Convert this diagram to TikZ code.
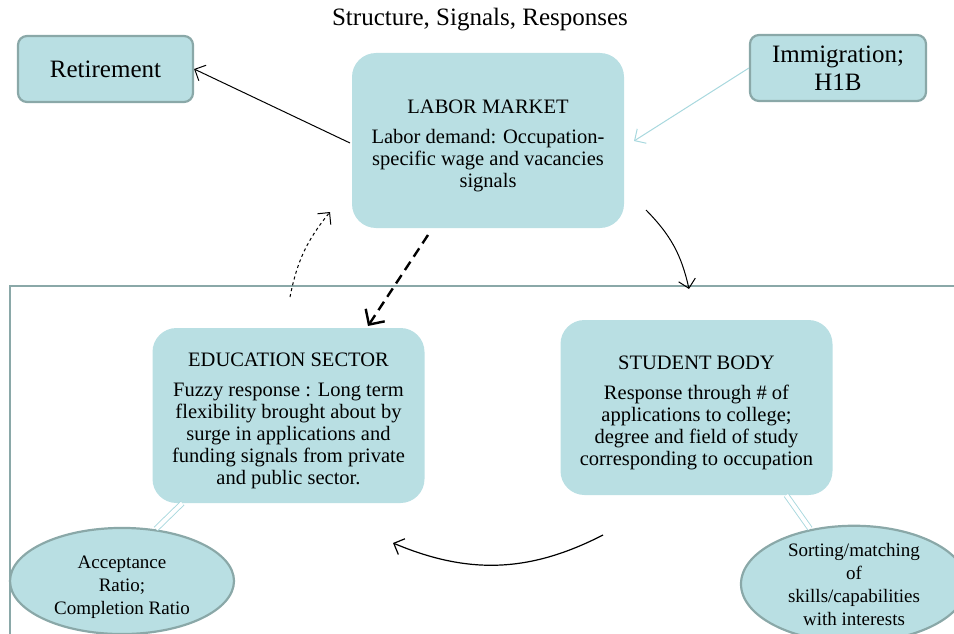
\documentclass[tikz,border=0pt]{standalone}
\usepackage{fontspec}
\setmainfont{Liberation Serif}
\usepackage{tikz}
\usetikzlibrary{arrows.meta,positioning,shapes.geometric,calc}

\definecolor{boxfill}{HTML}{B9DFE3}
\definecolor{boxline}{HTML}{8AA8A8}
\definecolor{linklight}{HTML}{A8D8DE}

\newcommand{\toppad}{\rule{0pt}{24pt}}

\begin{document}
\begin{tikzpicture}[
    x=1pt, y=-1pt,
    smallbox/.style={rectangle, rounded corners=9pt, draw=boxline, line width=2.2pt, fill=boxfill,
        align=center, font=\fontsize{25}{28}\selectfont},
    bigbox/.style={rectangle, rounded corners=24pt, fill=boxfill, minimum width=272pt,
        minimum height=175pt, align=center, font=\fontsize{20.5}{22}\selectfont},
    oval/.style={ellipse, draw=boxline, line width=2.2pt, fill=boxfill, align=center,
        font=\fontsize{19}{23}\selectfont, inner sep=0pt},
    arrow/.style={-{Straight Barb[length=3mm]}, line width=1pt},
    link/.style={draw=linklight, double=white, double distance=4pt, line width=0.9pt}
]
    \useasboundingbox (0,0) rectangle (954,634);

    % Title
    \node[font=\fontsize{25}{28}\selectfont] (title) at (480,20) {Structure, Signals, Responses};

    % Frame of the lower part
    \draw[boxline, line width=2.2pt] (954,286) -- (10,286) -- (10,640);

    % Boxes
    \node[smallbox, minimum width=175pt, minimum height=66pt] (ret) at (105.5,69) {Retirement};
    \node[smallbox, minimum width=176pt, minimum height=66pt] (imm) at (838,68) {Immigration;\\H1B};
    \node[bigbox] (lab) at (488,140.5) {\toppad LABOR MARKET\\[8pt]Labor demand: Occupation-\\specific wage and vacancies\\signals};
    \node[bigbox] (edu) at (288.5,415.5) {\toppad EDUCATION SECTOR\\[8pt]Fuzzy response : Long term\\flexibility brought about by\\surge in applications and\\funding signals from private\\and public sector.};
    \node[bigbox] (stu) at (696.5,407.5) {\toppad STUDENT BODY\\[8pt]Response through \# of\\applications to college;\\degree and field of study\\corresponding to occupation};

    % Ellipses
    \node[oval, minimum width=224pt, minimum height=98pt] (acc) at (122,581) {\rule{0pt}{25pt}Acceptance\\Ratio;\\Completion Ratio};
    \node[oval, minimum width=226pt, minimum height=104pt] (sort) at (854,584) {Sorting/matching\\of\\skills/capabilities\\with interests};

    % Links to ellipses
    \draw[link] ($(edu.south west)+(30,0)$) -- ($(acc.north)+(34,2)$);
    \draw[link] ($(stu.south west)+(226,0)$) -- ($(sort.north)+(-44,4)$);

    % Free ends of arrows
    \coordinate (labL) at (350,143);
    \coordinate (immL) at (634,141);
    \coordinate (labR) at (646,210);
    \coordinate (stuT) at (689,289);
    \coordinate (labB) at (428,235);
    \coordinate (eduT) at (368,326);
    \coordinate (eduUp) at (290,297);
    \coordinate (labUp) at (330,212);
    \coordinate (stuB) at (603,535);
    \coordinate (eduB) at (393,543);

    % Arrows
    \draw[arrow] (labL) -- (ret.east);
    \draw[arrow, linklight] (imm.west) -- (immL);
    \draw[arrow] (labR) to[bend left=16] (stuT);
    \draw[-{Straight Barb[length=4mm]}, line width=2.4pt, dash pattern=on 10pt off 6pt] (labB) -- (eduT);
    \draw[arrow, dashed] (eduUp) to[bend left=14] (labUp);
    \draw[arrow, line width=1.2pt] (stuB) to[bend left=25] (eduB);
\end{tikzpicture}
\end{document}
